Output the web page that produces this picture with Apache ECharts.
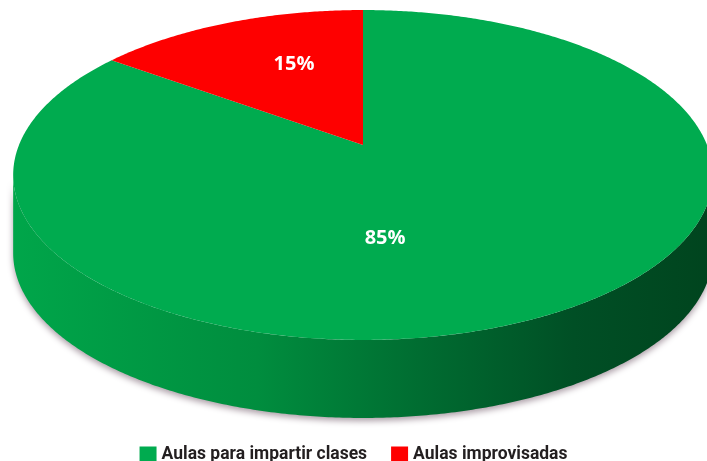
<!DOCTYPE html>
<html>
<head>
<meta charset="utf-8">
<script src="https://cdn.jsdelivr.net/npm/echarts@6/dist/echarts.min.js"></script>
<style>html,body{margin:0;padding:0;background:#fff}#c{width:707px;height:461px}</style>
</head>
<body>
<div id="c"></div>
<script>
const categories = ['Aulas para impartir clases', 'Aulas improvisadas'];
const values = [85, 15];
const colors = ['#00ab4f', '#fe0000'];

// projection (perspective view of a disc)
const P = { cx: 363, cy: 145, A: 344, B: 159.5, k: 0.1818, depth: 78 };
const total = values.reduce((a, b) => a + b, 0);

function proj(phi, r, dy) {
  const X = r * Math.sin(phi), Z = r * Math.cos(phi);
  const w = 1 + P.k * Z;
  return [P.cx + P.A * X / w, P.cy - P.B * Z / w + (dy || 0)];
}
function arcPts(a, b, dy) {
  const pts = [];
  const n = Math.max(2, Math.ceil(Math.abs(b - a) / (Math.PI / 360)));
  for (let i = 0; i <= n; i++) pts.push(proj(a + (b - a) * i / n, 1, dy));
  return pts;
}

function renderItem(params, api) {
  const si = params.seriesIndex;
  let before = 0;
  for (let i = 0; i < si; i++) before += values[i];
  const v = api.value(0);
  const a0 = before / total * Math.PI * 2;
  const a1 = (before + v) / total * Math.PI * 2;
  const children = [];
  // visible front side range
  const s = Math.asin(P.k);
  const f0 = Math.PI / 2 + s, f1 = 3 * Math.PI / 2 - s;
  const sa = Math.max(a0, f0), sb = Math.min(a1, f1);
  if (sb > sa) {
    const top = arcPts(sa, sb, 0);
    const bot = arcPts(sa, sb, P.depth).reverse();
    const sideFill = si === 0 ? {
      type: 'linear', global: true,
      x: P.cx - P.A * 1.02, y: 0, x2: P.cx + P.A * 1.02, y2: 0,
      colorStops: [
        { offset: 0, color: '#00a64a' },
        { offset: 0.35, color: '#008d3e' },
        { offset: 0.6, color: '#006a30' },
        { offset: 0.8, color: '#004f25' },
        { offset: 1, color: '#00441e' }
      ]
    } : '#a00000';
    children.push({
      type: 'polygon', z2: 1,
      shape: { points: top.concat(bot) },
      style: { fill: sideFill, shadowBlur: 6, shadowOffsetY: 3, shadowColor: 'rgba(70,40,60,0.45)' }
    });
  }
  const face = [[P.cx, P.cy]].concat(arcPts(a0, a1, 0));
  children.push({
    type: 'polygon', z2: 10,
    shape: { points: face },
    style: { fill: colors[si] }
  });
  // label
  let lp;
  if (v / total > 0.5) lp = proj(Math.PI * 0.965, 0.53, 0);
  else lp = proj(a0 + 0.6 * (a1 - a0), 0.6, 0);
  children.push({
    type: 'text', z2: 20,
    x: lp[0], y: lp[1],
    style: {
      text: Math.round(v / total * 100) + '%',
      fill: '#ffffff', font: 'bold 20px "Open Sans"',
      align: 'center', verticalAlign: 'middle'
    }
  });
  return { type: 'group', children };
}

const chart = echarts.init(document.getElementById('c'), null, { renderer: 'canvas' });
chart.setOption({
  animation: false,
  backgroundColor: '#ffffff',
  legend: {
    data: categories,
    left: 'center', top: 441,
    icon: 'rect', itemWidth: 17, itemHeight: 17, itemGap: 24,
    textStyle: { fontSize: 17.5, fontWeight: 'bold', color: '#231f20', fontFamily: 'Roboto' }
  },
  series: categories.map((name, i) => ({
    type: 'custom', name, coordinateSystem: 'none', z: 2,
    color: colors[i], itemStyle: { color: colors[i] },
    renderItem, data: [values[i]]
  }))
});
</script>
</body>
</html>
